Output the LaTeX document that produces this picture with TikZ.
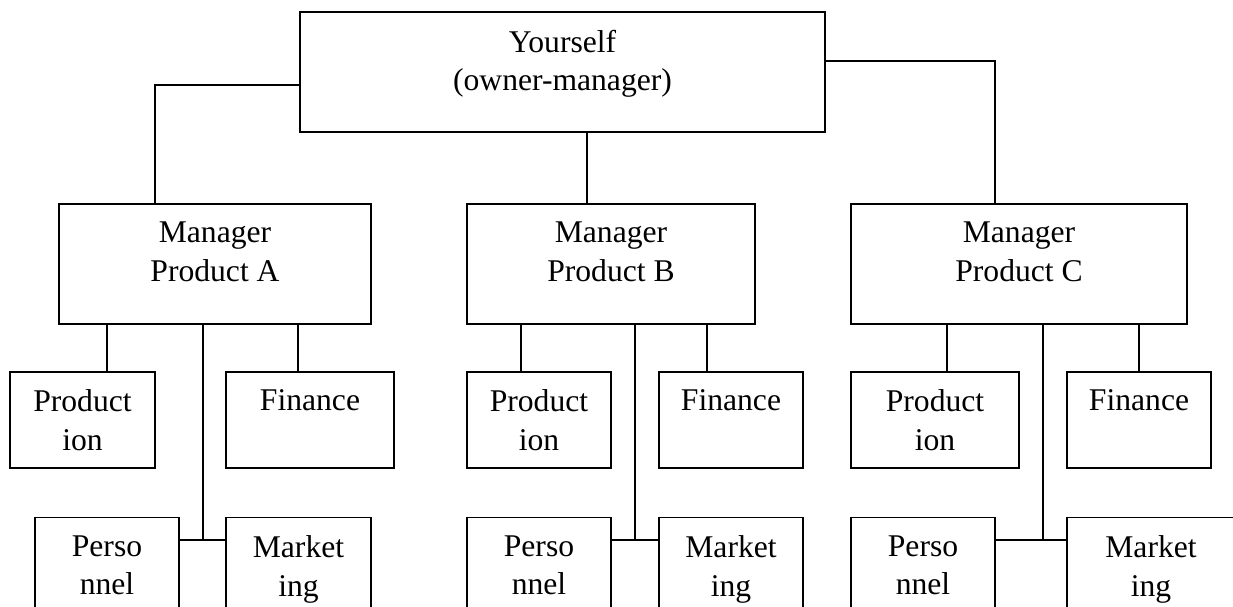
\documentclass[tikz,border=0pt]{standalone}
\usepackage{fontspec}
\setmainfont{Liberation Serif}
\tikzstyle{unit}=[rectangle,draw=black,line width=0.8pt,inner sep=0pt]
\tikzstyle{boss}=[unit,minimum height=2.4cm]
\tikzstyle{dept}=[unit,minimum height=1.92cm]
\tikzstyle{staff}=[unit,anchor=north,minimum height=2cm]
\tikzset{lbl/.style={anchor=north,yshift=-10.1pt,align=center,inner sep=0pt,
		font=\fontsize{18pt}{22pt}\selectfont}}

\begin{document}
\begin{tikzpicture}[x=0.02cm,y=-0.02cm,line width=0.8pt]
		\useasboundingbox (0,0) rectangle (1233,607);
		\clip (0,0) rectangle (1233,607);
		% owner and product managers
		\node at (562.5,72) [boss,minimum width=10.5cm,label={[lbl]north:{Yourself\\(owner-manager)}}] (top) {};
		\node at (215,264) [boss,minimum width=6.24cm,label={[lbl]north:{Manager\\Product A}}] (mA) {};
		\node at (611,264) [boss,minimum width=5.76cm,label={[lbl]north:{Manager\\Product B}}] (mB) {};
		\node at (1019,264) [boss,minimum width=6.72cm,label={[lbl]north:{Manager\\Product C}}] (mC) {};
		% departments
		\node at (82.5,420) [dept,minimum width=2.9cm,label={[lbl]north:{Product\\ion}}] (prodA) {};
		\node at (310,420) [dept,minimum width=3.36cm,label={[lbl]north:Finance}] (finA) {};
		\node at (539,420) [dept,minimum width=2.88cm,label={[lbl]north:{Product\\ion}}] (prodB) {};
		\node at (731,420) [dept,minimum width=2.88cm,label={[lbl]north:Finance}] (finB) {};
		\node at (935,420) [dept,minimum width=3.36cm,label={[lbl]north:{Product\\ion}}] (prodC) {};
		\node at (1139,420) [dept,minimum width=2.88cm,label={[lbl]north:Finance}] (finC) {};
		\node at (107,517) [staff,minimum width=2.88cm,label={[lbl]north:{Perso\\nnel}}] (perA) {};
		\node at (298.5,517) [staff,minimum width=2.9cm,label={[lbl]north:{Market\\ing}}] (mkA) {};
		\node at (539,517) [staff,minimum width=2.88cm,label={[lbl]north:{Perso\\nnel}}] (perB) {};
		\node at (731,517) [staff,minimum width=2.88cm,label={[lbl]north:{Market\\ing}}] (mkB) {};
		\node at (923,517) [staff,minimum width=2.88cm,label={[lbl]north:{Perso\\nnel}}] (perC) {};
		\node at (1151,517) [staff,minimum width=3.36cm,label={[lbl]north:{Market\\ing}}] (mkC) {};
		\coordinate (jA) at (203,540);
		\coordinate (jB) at (635,540);
		\coordinate (jC) at (1043,540);
		% links
		\draw ([yshift=-0.26cm]top.west) -| ([xshift=-1.2cm]mA.north);
		\draw ([xshift=0.49cm]top.south) -- ([xshift=0.49cm]top.south |- mB.north);
		\draw ([yshift=0.22cm]top.east) -| ([xshift=-0.48cm]mC.north);
		\draw ([xshift=0.49cm]prodA.north) -- ([xshift=0.49cm]prodA.north |- mA.south);
		\draw ([xshift=-0.24cm]finA.north) -- ([xshift=-0.24cm]finA.north |- mA.south);
		\draw ([xshift=-0.36cm]prodB.north) -- ([xshift=-0.36cm]prodB.north |- mB.south);
		\draw ([xshift=-0.48cm]finB.north) -- ([xshift=-0.48cm]finB.north |- mB.south);
		\draw ([xshift=0.24cm]prodC.north) -- ([xshift=0.24cm]prodC.north |- mC.south);
		\draw (finC.north) -- (finC.north |- mC.south);
		\draw (mA.south -| jA) -- (jA);
		\draw (perA.east |- jA) -- (mkA.west |- jA);
		\draw (mB.south -| jB) -- (jB);
		\draw (perB.east |- jB) -- (mkB.west |- jB);
		\draw (mC.south -| jC) -- (jC);
		\draw (perC.east |- jC) -- (mkC.west |- jC);
\end{tikzpicture}
\end{document}
